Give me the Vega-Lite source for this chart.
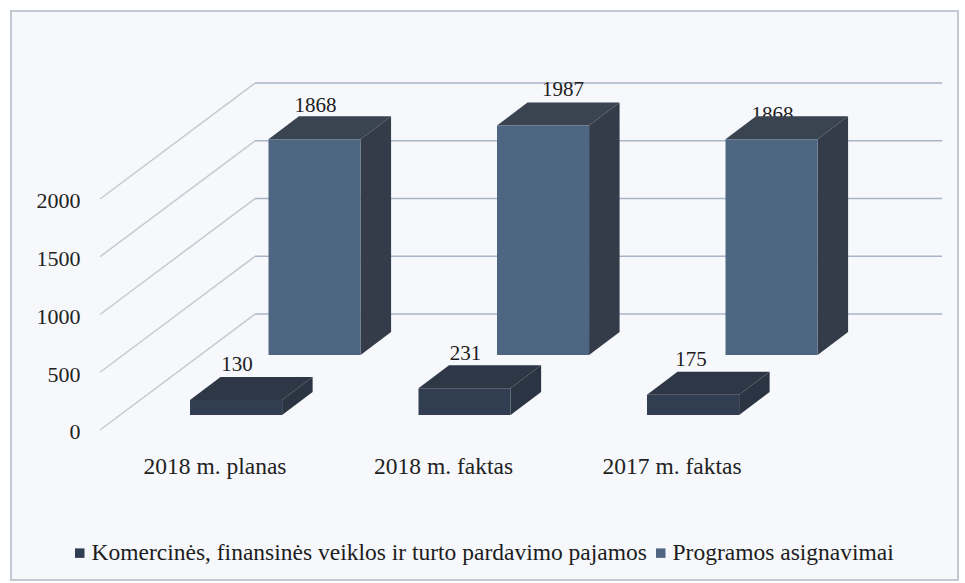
{"$schema":"https://vega.github.io/schema/vega-lite/v6.json","width":947,"height":569,"padding":{"left":11,"top":11,"right":7,"bottom":3},"autosize":{"type":"none"},"background":"#ffffff","config":{"view":{"fill":"#f6f8fb","stroke":"#c4c8d2","strokeWidth":2},"font":"Liberation Serif"},
"resolve":{"axis":{"x":"independent","y":"independent"}},
"datasets":{"bars":[
{"cat":"2018 m. planas","series":"Komercinės, finansinės veiklos ir turto pardavimo pajamos","amount":130},
{"cat":"2018 m. faktas","series":"Komercinės, finansinės veiklos ir turto pardavimo pajamos","amount":231},
{"cat":"2017 m. faktas","series":"Komercinės, finansinės veiklos ir turto pardavimo pajamos","amount":175},
{"cat":"2018 m. planas","series":"Programos asignavimai","amount":1868},
{"cat":"2018 m. faktas","series":"Programos asignavimai","amount":1987},
{"cat":"2017 m. faktas","series":"Programos asignavimai","amount":1868}],
"grid":[{"tick":0},{"tick":500},{"tick":1000},{"tick":1500},{"tick":2000}]},
"layer":[
{"data":{"name":"grid"},"transform":[{"calculate":"datum.tick+1004","as":"backTick"},{"calculate":"-0.5974","as":"xa"},{"calculate":"0.081","as":"xb"}],
"mark":{"type":"rule","color":"#c6cad0","strokeWidth":1.5},
"encoding":{"x":{"field":"xa","type":"quantitative","scale":{"domain":[-0.9869,3.1575],"nice":false,"zero":false},"axis":{"values":[0,1,2],"title":null,"domain":false,"ticks":false,"grid":false,"labelExpr":"['2018 m. planas','2018 m. faktas','2017 m. faktas'][datum.value]","labelFont":"Liberation Serif","labelFontSize":23.5,"labelColor":"#222222","labelOffset":-22,"labelPadding":0,"offset":-126}},"x2":{"field":"xb"},
"y":{"field":"tick","type":"quantitative","scale":{"domain":[-1298.7,3627.7],"nice":false,"zero":false},"axis":{"values":[0,500,1000,1500,2000],"title":null,"domain":false,"ticks":false,"grid":false,"labelFont":"Liberation Serif","labelFontSize":22,"labelColor":"#222222","labelPadding":0,"labelOffset":2,"offset":-69,"format":"d"}},"y2":{"field":"backTick"}}},
{"data":{"name":"grid"},"transform":[{"calculate":"datum.tick+1004","as":"backTick"},{"calculate":"0.081","as":"xa"},{"calculate":"3.088","as":"xb"}],
"mark":{"type":"rule","color":"#a9b4c8","strokeWidth":1.5},
"encoding":{"x":{"field":"xa","type":"quantitative","scale":{"domain":[-0.9869,3.1575],"nice":false,"zero":false},"axis":null},"x2":{"field":"xb"},"y":{"field":"backTick","type":"quantitative","scale":{"domain":[-1298.7,3627.7],"nice":false,"zero":false},"axis":null}}},
{"data":{"name":"bars"},"transform":[{"calculate":"indexof(['2018 m. planas','2018 m. faktas','2017 m. faktas'],datum.cat)","as":"c"},{"calculate":"datum.series==='Programos asignavimai'?1:0","as":"s"},{"calculate":"datum.c+datum.s*0.3435-0.2035+0.2057+(datum.s==1?[0,0.083,0][datum.c]:[0,0,-0.013][datum.c])","as":"labelX"},{"calculate":"130+datum.s*519+datum.amount+199+(datum.s==1?[85,113,13][datum.c]:[100,98,104][datum.c])","as":"labelY"}],
"mark":{"type":"text","font":"Liberation Serif","fontSize":21,"color":"#1c1c1c","align":"center","baseline":"middle"},
"encoding":{"x":{"field":"labelX","type":"quantitative","scale":{"domain":[-0.9869,3.1575],"nice":false,"zero":false},"axis":null},"y":{"field":"labelY","type":"quantitative","scale":{"domain":[-1298.7,3627.7],"nice":false,"zero":false},"axis":null},"text":{"field":"amount","type":"quantitative","format":"d"}}},
{"data":{"name":"bars"},"transform":[{"calculate":"indexof(['2018 m. planas','2018 m. faktas','2017 m. faktas'],datum.cat)","as":"c"},{"calculate":"datum.series==='Programos asignavimai'?1:0","as":"s"},{"calculate":"datum.c+datum.s*0.3435-0.2035","as":"left"},{"calculate":"datum.left+0.403","as":"right"},{"calculate":"130+datum.s*519","as":"base"},{"calculate":"datum.base+datum.amount","as":"top"},{"calculate":"datum.top+199","as":"topBack"},{"fold":["top","topBack"],"as":["corner","cy"]},{"calculate":"datum.corner==='topBack'?0.1335:0","as":"shift"},{"calculate":"datum.left+datum.shift","as":"xa"},{"calculate":"datum.right+datum.shift","as":"xb"},{"calculate":"datum.s==1?'#3a4350':'#2e3745'","as":"faceColor"},{"calculate":"datum.cat+datum.series","as":"bar"}],
"mark":{"type":"area","orient":"horizontal"},
"encoding":{"y":{"field":"cy","type":"quantitative","stack":null,"scale":{"domain":[-1298.7,3627.7],"nice":false,"zero":false},"axis":null},"x":{"field":"xa","type":"quantitative","stack":null,"scale":{"domain":[-0.9869,3.1575],"nice":false,"zero":false},"axis":null},"x2":{"field":"xb"},"detail":{"field":"bar"},"fill":{"field":"faceColor","type":"nominal","scale":null}}},
{"data":{"name":"bars"},"transform":[{"calculate":"indexof(['2018 m. planas','2018 m. faktas','2017 m. faktas'],datum.cat)","as":"c"},{"calculate":"datum.series==='Programos asignavimai'?1:0","as":"s"},{"calculate":"datum.c+datum.s*0.3435-0.2035+0.403","as":"right"},{"calculate":"datum.right+0.1335","as":"rightBack"},{"fold":["right","rightBack"],"as":["corner","cx"]},{"calculate":"130+datum.s*519+(datum.corner==='rightBack'?199:0)","as":"yLow"},{"calculate":"datum.yLow+datum.amount","as":"yHigh"},{"calculate":"datum.s==1?'#343c49':'#2b3442'","as":"faceColor"},{"calculate":"datum.cat+datum.series","as":"bar"}],
"mark":{"type":"area","orient":"vertical"},
"encoding":{"x":{"field":"cx","type":"quantitative","stack":null,"scale":{"domain":[-0.9869,3.1575],"nice":false,"zero":false},"axis":null},"y":{"field":"yLow","type":"quantitative","stack":null,"scale":{"domain":[-1298.7,3627.7],"nice":false,"zero":false},"axis":null},"y2":{"field":"yHigh"},"detail":{"field":"bar"},"fill":{"field":"faceColor","type":"nominal","scale":null}}},
{"data":{"name":"bars"},"transform":[{"calculate":"indexof(['2018 m. planas','2018 m. faktas','2017 m. faktas'],datum.cat)","as":"c"},{"calculate":"datum.series==='Programos asignavimai'?1:0","as":"s"},{"calculate":"datum.c+datum.s*0.3435-0.2035","as":"left"},{"calculate":"datum.left+0.403","as":"right"},{"calculate":"130+datum.s*519","as":"base"},{"calculate":"datum.base+datum.amount","as":"top"}],
"mark":{"type":"rect"},
"encoding":{"x":{"field":"left","type":"quantitative","scale":{"domain":[-0.9869,3.1575],"nice":false,"zero":false},"axis":null},"x2":{"field":"right"},"y":{"field":"base","type":"quantitative","scale":{"domain":[-1298.7,3627.7],"nice":false,"zero":false},"axis":null},"y2":{"field":"top"},
"color":{"field":"series","type":"nominal","scale":{"domain":["Komercinės, finansinės veiklos ir turto pardavimo pajamos","Programos asignavimai"],"range":["#313d50","#4f6682"]},"legend":{"orient":"none","direction":"horizontal","legendX":57,"legendY":530,"title":null,"symbolType":"square","symbolSize":90,"labelFont":"Liberation Serif","labelFontSize":23.5,"labelColor":"#1c1c1c","labelLimit":700,"columnPadding":2,"labelOffset":0,"padding":0}}}}
]}
